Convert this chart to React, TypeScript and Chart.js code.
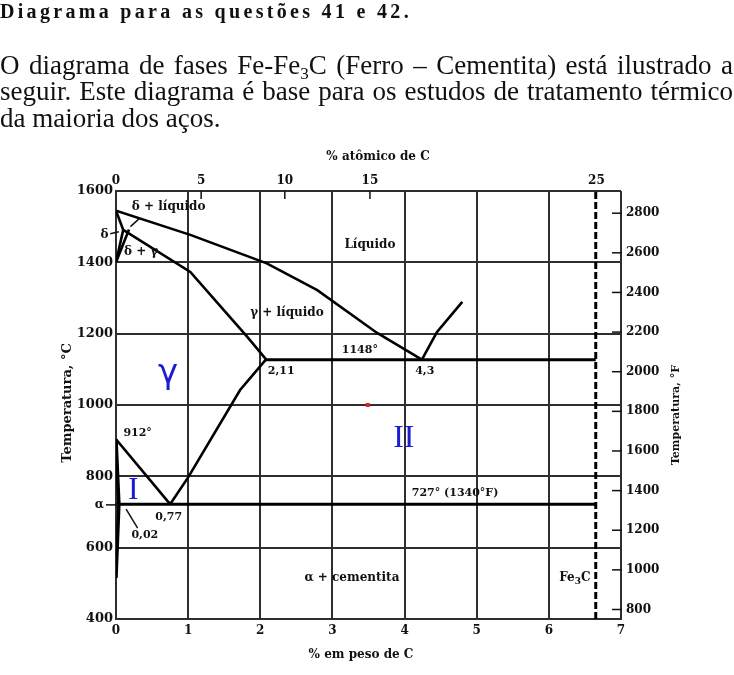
import React, { useEffect, useLayoutEffect, useRef } from "react";
import { Chart, registerables } from "chart.js";
Chart.register(...registerables);

// ---------- header text ----------
const headerTitle = "Diagrama para as questões 41 e 42.";
const headerLine2 = "seguir. Este diagrama é base para os estudos de tratamento térmico";
const headerLine3 = "da maioria dos aços.";

// ---------- axes ----------
const wtMin = 0;
const wtMax = 7;
const tempMinC = 400;
const tempMaxC = 1600;
const tempStepC = 200;
const tempTicksF = [800, 1000, 1200, 1400, 1600, 1800, 2000, 2200, 2400, 2600, 2800];
const atomicLabels = ["0", "5", "10", "15", "25"];
const atomicTickWt = [0, 1.18, 2.34, 3.52, 6.66];

// ---------- phase boundaries (wt% C , °C) ----------
const liquidusWt = [0, 1.03, 2.09, 2.79, 3.62, 4.24];
const liquidusT = [1545, 1477, 1397, 1322, 1202, 1127];
const liquidusCemWt = [4.24, 4.45, 4.8];
const liquidusCemT = [1127, 1205, 1289];
const solidusWt = [0.1, 1.03, 1.82, 2.08];
const solidusT = [1491, 1373, 1191, 1128];
const deltaSolidusWt = [0, 0.1];
const deltaSolidusT = [1545, 1491];
const deltaLeftWt = [0, 0.1];
const deltaLeftT = [1400, 1491];
const deltaRightWt = [0, 0.18];
const deltaRightT = [1400, 1492];
const eutecticWt = [2.08, 6.65];
const eutecticT = [1127, 1127];
const acmWt = [0.75, 1.0, 1.72, 2.08];
const acmT = [722, 797, 1042, 1128];
const a3Wt = [0, 0.75];
const a3T = [904, 722];
const alphaWt = [0, 0.04];
const alphaT = [904, 722];
const solvusWt = [0.04, 0.02, 0];
const solvusT = [722, 620, 515];
const eutectoidWt = [0, 6.65];
const eutectoidT = [722, 722];
const cementiteWt = [6.65, 6.65];
const cementiteT = [400, 1600];

// ---------- labels ----------
const wordLabels = ["δ + líquido", "Líquido", "δ + γ", "γ + líquido", "α + cementita"];
const wordLabelWt = [0.73, 3.52, 0.35, 2.37, 3.27];
const wordLabelT = [1555, 1449, 1429, 1258, 515];
const numLabels = ["1148°", "2,11", "4,3", "912°", "0,77", "0,02", "727° (1340°F)"];
const numLabelWt = [3.38, 2.29, 4.28, 0.3, 0.73, 0.4, 4.7];
const numLabelT = [1154, 1095, 1095, 922, 686, 636, 753];
const sideLabels = ["δ", "α"];
const sideLabelWt = [-0.16, -0.23];
const sideLabelT = [1477, 720];
const blueLabels = ["γ", "I", "II"];
const blueLabelWt = [0.72, 0.24, 3.99];
const blueLabelT = [1093, 764, 908];
const fe3cWt = 6.36;
const fe3cT = 515;
const redMarkWt = 3.49;
const redMarkT = 1000;
// leader lines: [wt1, T1, wt2, T2]
const leaderA = [0.33, 1524, 0.2, 1500];
const leaderDelta = [-0.08, 1480, 0.04, 1486];
const leaderAlpha = [-0.14, 720, 0.03, 720];
const leader002 = [0.14, 708, 0.3, 655];

const pts = (w: number[], t: number[]) => w.map((x, i) => ({ x, y: t[i] }));
const line = (w: number[], t: number[], extra: any = {}) => ({
  data: pts(w, t),
  showLine: true,
  borderColor: "#000",
  borderWidth: 2.6,
  pointRadius: 0,
  fill: false,
  tension: 0,
  ...extra,
});

const FONT = '"DejaVu Serif"';

const annotate = {
  id: "annotate",
  afterDraw(chart: any) {
    const { ctx, chartArea: ca } = chart;
    const xs = chart.scales.x;
    const ys = chart.scales.y;
    const yF = chart.scales.yF;
    const px = (w: number) => xs.getPixelForValue(w);
    const py = (t: number) => ys.getPixelForValue(t);
    ctx.save();
    // leaders
    ctx.strokeStyle = "#111";
    ctx.lineWidth = 1.5;
    [leaderA, leaderDelta, leaderAlpha, leader002].forEach((l) => {
      ctx.beginPath();
      ctx.moveTo(px(l[0]), py(l[1]));
      ctx.lineTo(px(l[2]), py(l[3]));
      ctx.stroke();
    });
    // top ticks (inward)
    atomicTickWt.forEach((w, i) => {
      if (i === 0 || i === atomicTickWt.length - 1) return;
      ctx.beginPath();
      ctx.moveTo(px(w), ca.top);
      ctx.lineTo(px(w), ca.top + 8);
      ctx.stroke();
    });
    // right ticks (inward)
    tempTicksF.forEach((f) => {
      const y = yF.getPixelForValue(f);
      ctx.beginPath();
      ctx.moveTo(ca.right - 9, y);
      ctx.lineTo(ca.right + 1, y);
      ctx.stroke();
    });
    // text labels
    ctx.fillStyle = "#111";
    ctx.textAlign = "center";
    ctx.textBaseline = "middle";
    ctx.font = `bold 12px ${FONT}`;
    wordLabels.forEach((s, i) => ctx.fillText(s, px(wordLabelWt[i]), py(wordLabelT[i])));
    ctx.font = `bold 11px ${FONT}`;
    numLabels.forEach((s, i) => ctx.fillText(s, px(numLabelWt[i]), py(numLabelT[i])));
    ctx.font = `bold 12px ${FONT}`;
    sideLabels.forEach((s, i) => ctx.fillText(s, px(sideLabelWt[i]), py(sideLabelT[i])));
    // Fe3C
    {
      const x = px(fe3cWt);
      const y = py(fe3cT);
      ctx.textAlign = "left";
      ctx.font = `bold 12px ${FONT}`;
      const wFe = ctx.measureText("Fe").width;
      ctx.font = `bold 9px ${FONT}`;
      const w3 = ctx.measureText("3").width;
      ctx.font = `bold 12px ${FONT}`;
      const wC = ctx.measureText("C").width;
      const x0 = x - (wFe + w3 + wC) / 2;
      ctx.fillText("Fe", x0, y);
      ctx.font = `bold 9px ${FONT}`;
      ctx.fillText("3", x0 + wFe, y + 4);
      ctx.font = `bold 12px ${FONT}`;
      ctx.fillText("C", x0 + wFe + w3, y);
    }
    // blue marks
    ctx.textAlign = "center";
    ctx.fillStyle = "#1c1cd6";
    ctx.font = `34px "DejaVu Sans"`;
    ctx.fillText(blueLabels[0], px(blueLabelWt[0]), py(blueLabelT[0]) + 2);
    ctx.font = `32px "Liberation Serif"`;
    ctx.fillText(blueLabels[1], px(blueLabelWt[1]), py(blueLabelT[1]) + 1);
    ctx.fillText(blueLabels[2], px(blueLabelWt[2]), py(blueLabelT[2]) + 1);
    // red mark
    ctx.fillStyle = "#e02424";
    ctx.fillRect(px(redMarkWt) - 2, py(redMarkT) - 2, 4, 4);
    // axis titles
    ctx.fillStyle = "#111";
    ctx.font = `bold 12px ${FONT}`;
    ctx.textAlign = "center";
    ctx.fillText("% atômico de C", 378, ca.top - 34);
    ctx.fillText("% em peso de C", 361, ca.bottom + 36);
    ctx.save();
    ctx.translate(68, 403);
    ctx.rotate(-Math.PI / 2);
    ctx.font = `bold 13px ${FONT}`;
    ctx.fillText("Temperatura, °C", 0, 0);
    ctx.restore();
    ctx.save();
    ctx.translate(676, 415);
    ctx.rotate(-Math.PI / 2);
    ctx.font = `bold 11px ${FONT}`;
    ctx.fillText("Temperatura, °F", 0, 0);
    ctx.restore();
    ctx.restore();
  },
};

const plain = (v: any) => String(v);

export default function App() {
  const ref = useRef<HTMLCanvasElement>(null);
  const titleRef = useRef<HTMLSpanElement>(null);

  useLayoutEffect(() => {
    document.body.style.margin = "0";
    const el = titleRef.current;
    if (el) {
      el.style.letterSpacing = "0px";
      const w0 = el.getBoundingClientRect().width;
      const n = headerTitle.length;
      el.style.letterSpacing = `${(412 - w0) / n}px`;
    }
  }, []);

  useEffect(() => {
    const gridColor = "#2e2e2e";
    const tickFont = { family: FONT, size: 13, weight: "bold" as const };
    const chart = new Chart(ref.current as HTMLCanvasElement, {
      type: "scatter",
      data: {
        datasets: [
          line(liquidusWt, liquidusT),
          line(liquidusCemWt, liquidusCemT),
          line(solidusWt, solidusT),
          line(deltaSolidusWt, deltaSolidusT),
          line(deltaLeftWt, deltaLeftT),
          line(deltaRightWt, deltaRightT),
          line(eutecticWt, eutecticT, { borderWidth: 3 }),
          line(acmWt, acmT),
          line(a3Wt, a3T),
          line(alphaWt, alphaT, { borderWidth: 3.5 }),
          line(solvusWt, solvusT, { borderWidth: 3.5 }),
          line(eutectoidWt, eutectoidT, { borderWidth: 3 }),
          line(cementiteWt, cementiteT, { borderWidth: 3, borderDash: [7, 3] }),
        ] as any,
      },
      options: {
        responsive: false,
        animation: false,
        devicePixelRatio: 1,
        layout: { padding: 0 },
        plugins: { legend: { display: false }, tooltip: { enabled: false } },
        scales: {
          x: {
            type: "linear",
            position: "bottom",
            min: wtMin,
            max: wtMax,
            ticks: { stepSize: 1, color: "#111", font: { ...tickFont, size: 12 }, padding: 5, maxRotation: 0, callback: plain },
            grid: { color: gridColor, lineWidth: 2, drawTicks: false },
            border: { color: gridColor, width: 2 },
            afterFit: (s: any) => { s.height = 56; },
          },
          xTop: {
            type: "linear",
            position: "top",
            min: wtMin,
            max: wtMax,
            afterBuildTicks: (s: any) => { s.ticks = atomicTickWt.map((v) => ({ value: v })); },
            ticks: {
              autoSkip: false,
              maxRotation: 0,
              color: "#111",
              font: { ...tickFont, size: 12 },
              padding: 3,
              callback: (_v: any, i: number) => atomicLabels[i],
            },
            grid: { display: false, drawTicks: false },
            border: { display: false },
            afterFit: (s: any) => { s.height = 191; },
          },
          y: {
            type: "linear",
            position: "left",
            min: tempMinC,
            max: tempMaxC,
            ticks: { stepSize: tempStepC, color: "#111", font: tickFont, padding: 3, callback: plain },
            grid: { color: gridColor, lineWidth: 2, drawTicks: false },
            border: { color: gridColor, width: 2 },
            afterFit: (s: any) => { s.width = 116; },
          },
          yF: {
            type: "linear",
            position: "right",
            min: tempMinC * 1.8 + 32,
            max: tempMaxC * 1.8 + 32,
            afterBuildTicks: (s: any) => { s.ticks = tempTicksF.map((v) => ({ value: v })); },
            ticks: { autoSkip: false, color: "#111", font: { ...tickFont, size: 12 }, padding: 5, callback: plain },
            grid: { display: false, drawTicks: false },
            border: { display: false },
            afterFit: (s: any) => { s.width = 113; },
          },
        },
      } as any,
      plugins: [annotate],
    });
    return () => chart.destroy();
  }, []);

  const lineStyle: React.CSSProperties = {
    position: "absolute",
    left: 0,
    whiteSpace: "nowrap",
    fontFamily: '"Liberation Serif", serif',
    fontSize: 27,
    lineHeight: "27px",
    color: "#111",
  };
  const justified: React.CSSProperties = {
    width: 733,
    whiteSpace: "normal",
    textAlign: "justify",
    textAlignLast: "justify" as any,
  };
  return (
    <div style={{ position: "relative", width: 734, height: 675, background: "#fff", overflow: "hidden" }}>
      <canvas ref={ref} width={734} height={675} style={{ position: "absolute", left: 0, top: 0, width: 734, height: 675 }} />
      <div style={{ ...lineStyle, top: 1, fontSize: 20, lineHeight: "20px", fontWeight: "bold" }}>
        <span ref={titleRef}>{headerTitle}</span>
      </div>
      <div style={{ ...lineStyle, ...justified, top: 52 }}>
        O diagrama de fases Fe-Fe<span style={{ fontSize: 17, verticalAlign: -5, lineHeight: "17px" }}>3</span>C (Ferro – Cementita) está ilustrado a
      </div>
      <div style={{ ...lineStyle, ...justified, top: 78 }}>{headerLine2}</div>
      <div style={{ ...lineStyle, top: 105 }}>{headerLine3}</div>
    </div>
  );
}
